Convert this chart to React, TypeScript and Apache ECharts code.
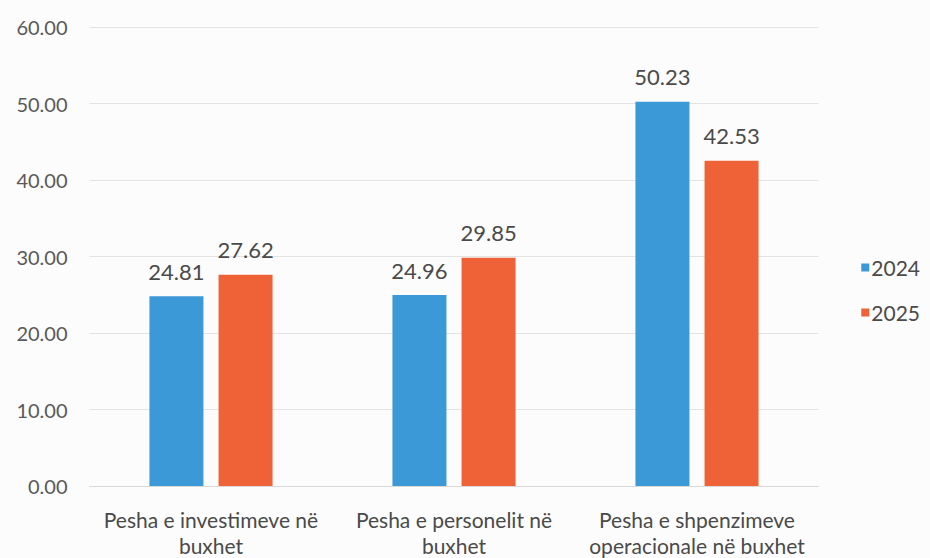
import React, { useEffect, useRef } from "react";
import * as echarts from "echarts";

const categories = [
  "Pesha e investimeve në\nbuxhet",
  "Pesha e personelit në\nbuxhet",
  "Pesha e shpenzimeve\noperacionale në buxhet",
];
const series2024 = [24.81, 24.96, 50.23];
const series2025 = [27.62, 29.85, 42.53];
const seriesNames = ["2024", "2025"];
const colors = ["#3C99D7", "#EF6237"];

export default function App() {
  const ref = useRef<HTMLDivElement>(null);
  useEffect(() => {
    if (!ref.current) return;
    const chart = echarts.init(ref.current, null, { renderer: "svg" });
    const font = "Lato, 'Open Sans', sans-serif";
    const labelCfg = {
      show: true,
      position: "top",
      distance: 14,
      fontSize: 22,
      color: "#4a4a4a",
      fontFamily: font,
      formatter: (p: any) => Number(p.value).toFixed(2),
    };
    chart.setOption({
      animation: false,
      backgroundColor: "#fcfcfc",
      grid: { left: 89.5, right: 111.5, top: 27, bottom: 71 },
      legend: {
        orient: "vertical",
        right: 5,
        top: 252,
        itemWidth: 8,
        itemHeight: 8,
        itemGap: 24,
        icon: "rect",
        textStyle: { fontSize: 21, color: "#4a4a4a", fontFamily: font, padding: [0, 0, 0, -3] },
        data: seriesNames,
      },
      xAxis: {
        type: "category",
        data: categories,
        axisTick: { show: false },
        axisLine: { lineStyle: { color: "#d9d9d9" } },
        axisLabel: {
          fontSize: 21,
          color: "#4a4a4a",
          fontFamily: font,
          lineHeight: 26,
          margin: 20,
          interval: 0,
        },
      },
      yAxis: {
        type: "value",
        min: 0,
        max: 60,
        interval: 10,
        axisLabel: {
          fontSize: 20,
          color: "#595959",
          fontFamily: font,
          margin: 22,
          formatter: (v: number) => v.toFixed(2),
        },
        splitLine: { lineStyle: { color: "#e3e3e3" } },
        axisLine: { show: false },
        axisTick: { show: false },
      },
      series: [
        {
          name: seriesNames[0],
          type: "bar",
          data: series2024,
          barWidth: 54,
          barGap: "28%",
          itemStyle: { color: colors[0] },
          label: labelCfg,
        },
        {
          name: seriesNames[1],
          type: "bar",
          data: series2025,
          barWidth: 54,
          barGap: "28%",
          itemStyle: { color: colors[1] },
          label: labelCfg,
        },
      ],
    });
    return () => chart.dispose();
  }, []);
  return (
    <div
      ref={ref}
      style={{ position: "fixed", left: 0, top: 0, width: 930, height: 558 }}
    />
  );
}
